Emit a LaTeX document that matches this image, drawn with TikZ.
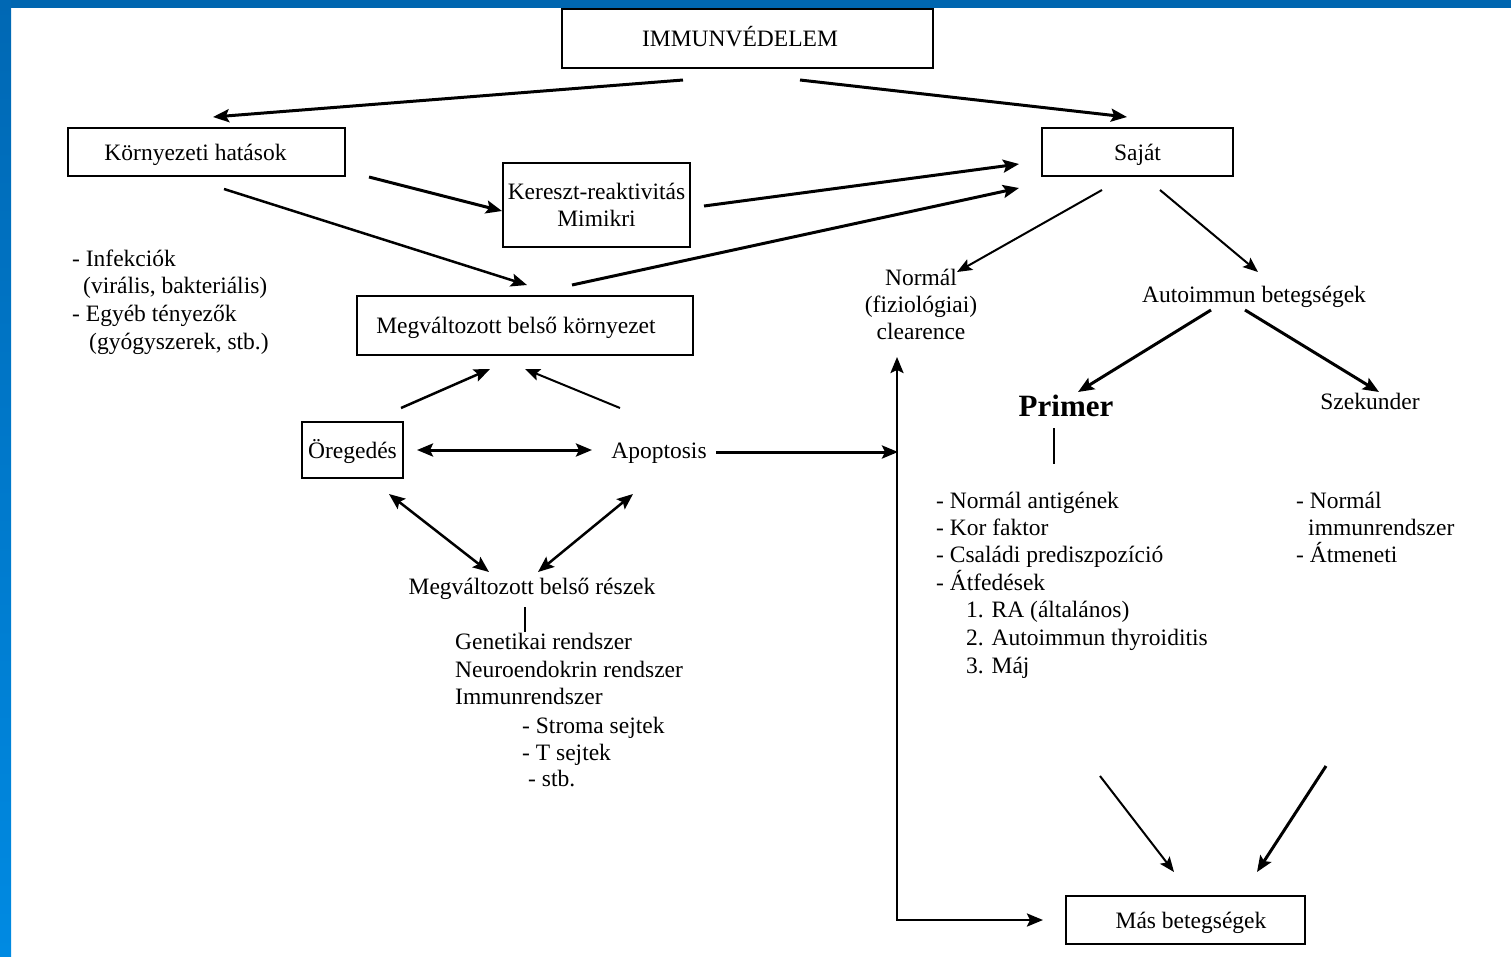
\documentclass[tikz,border=0pt]{standalone}
\usepackage{fontspec}
\setmainfont{Liberation Serif}
\usetikzlibrary{arrows.meta}
\definecolor{topblue}{RGB}{0,102,176}
\definecolor{lefttop}{RGB}{0,104,180}
\definecolor{leftbot}{RGB}{0,138,226}
\tikzset{
  fnt/.style={font=\fontsize{23.5}{27}\selectfont},
  txt/.style={fnt, inner sep=0pt, anchor=base},
  ltxt/.style={fnt, inner sep=0pt, anchor=base west},
  box/.style={draw, line width=1.4pt, fnt, inner sep=0pt, text height=18pt, text depth=2pt},
  mbox/.style={draw, line width=1.4pt, fnt, inner sep=0pt, align=center},
  arr/.style={line width=3pt, -{Stealth[length=16pt,width=13pt,inset=3pt]}},
  tarr/.style={line width=2pt, -{Stealth[length=15pt,width=12pt,inset=3pt]}},
  dbl/.style={line width=3pt, {Stealth[length=16pt,width=13pt,inset=3pt]}-{Stealth[length=16pt,width=13pt,inset=3pt]}},
  plain/.style={line width=1.2pt}
}
\begin{document}
\begin{tikzpicture}[x=1pt,y=-1pt]
\useasboundingbox (0,0) rectangle (1511,956);
\fill[white] (0,0) rectangle (1511,956);
\fill[topblue] (0,0) rectangle (1511,8);
\shade[top color=lefttop, bottom color=leftbot] (0,0) rectangle (11,956);

% boxes
\node[box, minimum width=371pt, minimum height=59pt] (immun) at (747.5,38.5) {IMMUNVÉDELEM\kern15pt};
\node[box, minimum width=277pt, minimum height=48pt] (korny) at (206.5,152) {Környezeti hatások\kern22pt};
\node[box, minimum width=191pt, minimum height=48pt] (sajat) at (1137.5,152) {Saját};
\node[mbox, minimum width=187pt, minimum height=84pt] (kereszt) at (596.5,205) {Kereszt-reaktivitás\\Mimikri};
\node[box, minimum width=336pt, minimum height=59pt] (megvk) at (525,325.5) {Megváltozott belső környezet\kern18pt};
\node[box, minimum width=101pt, minimum height=56pt] (oreg) at (352.5,450) {Öregedés};
\node[box, minimum width=239pt, minimum height=48pt] (mas) at (1185.5,920) {\kern11pt Más betegségek};

% free texts
\node[txt] (apop) at (659,458) {Apoptosis};
\node[txt] (megvr) at (532,594) {Megváltozott belső részek};
\node[ltxt] (gen) at (455,649) {Genetikai rendszer};
\node[ltxt] (neuro) at (455,677) {Neuroendokrin rendszer};
\node[ltxt] (immr) at (455,704) {Immunrendszer};
\node[ltxt] (stroma) at (522,733) {- Stroma sejtek};
\node[ltxt] (tsejt) at (522,760) {- T sejtek};
\node[ltxt] (stb) at (528,786) {- stb.};

\node[ltxt] (inf) at (72,266) {- Infekciók};
\node[ltxt] (vir) at (83,293) {(virális, bakteriális)};
\node[ltxt] (egyeb) at (72,321) {- Egyéb tényezők};
\node[ltxt] (gyogy) at (89,349) {(gyógyszerek, stb.)};

\node[txt] (norm1) at (921,285) {Normál};
\node[txt] (norm2) at (921,312) {(fiziológiai)};
\node[txt] (norm3) at (921,339) {clearence};

\node[txt] (auto) at (1254,302) {Autoimmun betegségek};
\node[txt, font=\bfseries\fontsize{31}{35}\selectfont] (primer) at (1066,416) {Primer};
\node[txt] (szek) at (1370,409) {Szekunder};

\node[ltxt] (p1) at (936,508) {- Normál antigének};
\node[ltxt] (p2) at (936,535) {- Kor faktor};
\node[ltxt] (p3) at (936,562) {- Családi prediszpozíció};
\node[ltxt] (p4) at (936,590) {- Átfedések};
\node[ltxt] (p5) at (966,617) {1. RA (általános)};
\node[ltxt] (p6) at (966,645) {2. Autoimmun thyroiditis};
\node[ltxt] (p7) at (966,673) {3. Máj};

\node[ltxt] (s1) at (1296,508) {- Normál};
\node[ltxt] (s2) at (1308,535) {immunrendszer};
\node[ltxt] (s3) at (1296,562) {- Átmeneti};

% connector end points
\coordinate (a1s) at (683,80);   \coordinate (a1e) at (213,117);
\coordinate (a2s) at (800,80);   \coordinate (a2e) at (1127,117);
\coordinate (a3s) at (369,177);  \coordinate (a3e) at (502,211);
\coordinate (a4s) at (224,189);  \coordinate (a4e) at (527,285);
\coordinate (a5s) at (704,206);  \coordinate (a5e) at (1019,164);
\coordinate (a6s) at (572,285);  \coordinate (a6e) at (1019,188);
\coordinate (a7s) at (1102,190); \coordinate (a7e) at (957,272);
\coordinate (a8s) at (1160,190); \coordinate (a8e) at (1258,272);
\coordinate (a9s) at (1211,310); \coordinate (a9e) at (1078,392);
\coordinate (a10s) at (1245,310); \coordinate (a10e) at (1379,392);
\coordinate (a11s) at (401,408); \coordinate (a11e) at (490,369);
\coordinate (a12s) at (620,408); \coordinate (a12e) at (525,369);
\coordinate (a13s) at (417,450); \coordinate (a13e) at (592,450);
\coordinate (a14s) at (389,494); \coordinate (a14e) at (489,572);
\coordinate (a15s) at (633,494); \coordinate (a15e) at (538,572);
\coordinate (a16s) at (716,452); \coordinate (a16e) at (898,452);
\coordinate (vtop) at (897,357); \coordinate (vbot) at (897,920); \coordinate (vend) at (1043,920);
\coordinate (a18s) at (1100,776); \coordinate (a18e) at (1174,872);
\coordinate (a19s) at (1326,766); \coordinate (a19e) at (1257,872);
\coordinate (l1s) at (525,607); \coordinate (l1e) at (525,632);
\coordinate (l2s) at (1054,428); \coordinate (l2e) at (1054,464);

% connectors
\draw[arr] (a1s) -- (a1e);
\draw[arr] (a2s) -- (a2e);
\draw[arr] (a3s) -- (a3e);
\draw[arr, line width=2.5pt] (a4s) -- (a4e);
\draw[arr] (a5s) -- (a5e);
\draw[arr] (a6s) -- (a6e);
\draw[tarr] (a7s) -- (a7e);
\draw[tarr] (a8s) -- (a8e);
\draw[arr] (a9s) -- (a9e);
\draw[arr] (a10s) -- (a10e);
\draw[arr, line width=2.5pt] (a11s) -- (a11e);
\draw[tarr] (a12s) -- (a12e);
\draw[dbl] (a13s) -- (a13e);
\draw[dbl, line width=2.5pt] (a14s) -- (a14e);
\draw[dbl, line width=2.5pt] (a15s) -- (a15e);
\draw[arr] (a16s) -- (a16e);
\draw[dbl, line width=2.5pt] (vtop) -- (vbot) -- (vend);
\draw[tarr] (a18s) -- (a18e);
\draw[arr] (a19s) -- (a19e);
\draw[plain] (l1s) -- (l1e);
\draw[plain] (l2s) -- (l2e);
\end{tikzpicture}
\end{document}
